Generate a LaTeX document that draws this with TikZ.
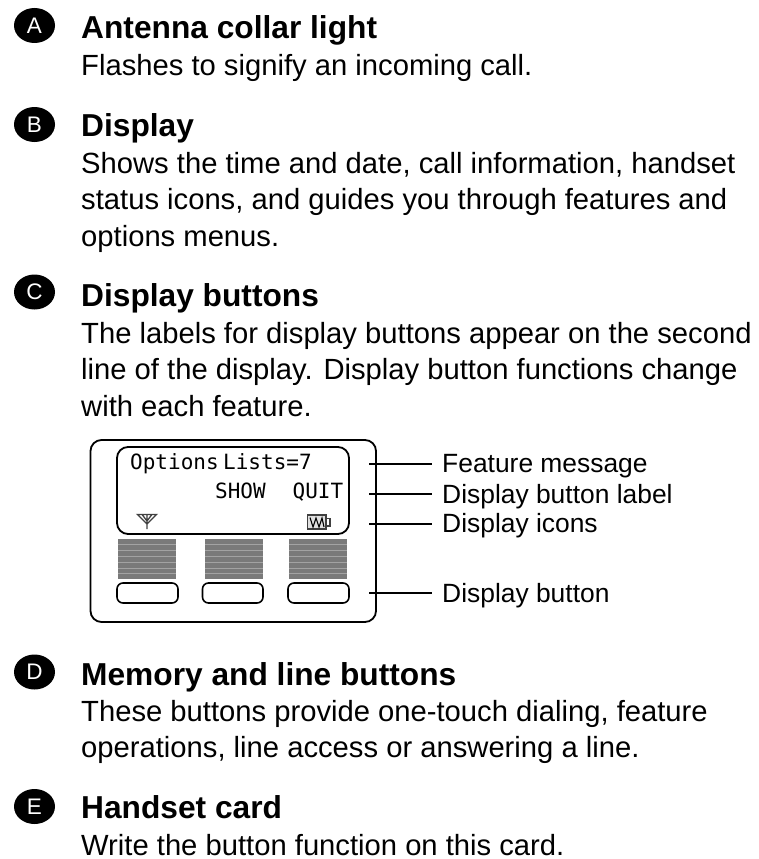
\documentclass[tikz,border=0pt]{standalone}
\usepackage{fontspec}
\setmainfont{Liberation Sans}
\newfontfamily\lcdfont{DejaVu Sans Mono}
\usetikzlibrary{shapes.geometric}
\tikzset{
  x=1pt,y=-1pt,
  badge/.style={ellipse,fill=black,text=white,inner sep=0pt,minimum width=41pt,minimum height=35pt,font=\fontsize{22.5}{22.5}\selectfont},
  head/.style={anchor=base west,inner sep=0pt,font=\fontsize{31.7}{31.7}\selectfont\bfseries},
  body/.style={anchor=base west,inner sep=0pt,font=\fontsize{29.2}{29.2}\selectfont},
  callout/.style={anchor=base west,inner sep=0pt,font=\fontsize{26.4}{26.4}\selectfont},
  lcd/.style={anchor=base west,inner sep=0pt,font=\fontsize{21}{21}\lcdfont\selectfont},
  frame/.style={draw=black,line width=1.8pt,rounded corners=11pt},
  softkey/.style={draw=black,line width=1.6pt,rounded corners=6pt},
  leader/.style={draw=black,line width=1.2pt},
  bar/.style={fill=black!52},
  stripe/.style={draw=black!36,line width=0.5pt}
}
\begin{document}
\begin{tikzpicture}
\useasboundingbox (0,0) rectangle (758,859);
\node[badge] (ba) at (34.5,25.5) {A};
\node[badge] (bb) at (34.5,124.5) {B};
\node[badge] (bc) at (34.5,292) {C};
\node[badge] (bd) at (34.5,672) {D};
\node[badge] (be) at (34.5,806.5) {E};
\node[head] (t1) at (81,38) {Antenna collar light};
\node[body] (t2) at (81,75) {Flashes to signify an incoming call.};
\node[head] (t3) at (81,136) {Display};
\node[body] (t4) at (81,173) {Shows the time and date, call information, handset};
\node[body] (t5) at (81,209) {status icons, and guides you through features and};
\node[body] (t6) at (81,246) {options menus.};
\node[head] (t7) at (81,306) {Display buttons};
\node[body] (t8) at (81,343) {The labels for display buttons appear on the second};
\node[body] (t9) at (81,379) {line of the display. Display button functions change};
\node[body] (t10) at (81,416) {with each feature.};
\node[head] (t11) at (81,685) {Memory and line buttons};
\node[body] (t12) at (81,721) {These buttons provide one-touch dialing, feature};
\node[body] (t13) at (81,757.5) {operations, line access or answering a line.};
\node[head] (t14) at (81,818) {Handset card};
\node[body] (t15) at (81,855) {Write the button function on this card.};
% handset outline
\draw[frame] (90.5,440) rectangle (376,622);
\draw[frame] (117,447) rectangle (349,534);
% lcd text
\node[lcd] (l1) at (130,469) {Options};
\node[lcd] (l2) at (223,469) {Lists=7};
\node[lcd] (l3) at (215,498.5) {SHOW};
\node[lcd] (l4) at (292.5,498.5) {QUIT};
% antenna icon
\draw[black!75,line width=1.3pt] (137.5,514.5) -- (147,524) -- (156.5,514.5) -- cycle (147,515) -- (147,529) (142.5,515) -- (147,521) -- (151.5,515);
% battery icon
\draw[black!75,line width=1.3pt,fill=black!12] (307.5,515) rectangle (326,529);
\draw[black!75,line width=1.1pt] (326,518.5) rectangle (330,526);
\draw[black,line width=1.1pt] (310,517.5) -- (313,527) -- (316,518) -- (319,527) -- (322,518) -- (324,527);
% gray bars
\foreach \xa in {118,205,289}{
  \fill[bar] (\xa,539) rectangle (\xa+58,579);
  \foreach \ya in {544.5,550.5,556.5,562,568,573.5}{
    \draw[stripe] (\xa,\ya) -- (\xa+58,\ya);
  }
}
\draw[softkey] (117,583) rectangle (178,603);
\draw[softkey] (202.5,583) rectangle (263,603);
\draw[softkey] (288,583) rectangle (349,603);
% callouts
\node[callout] (c1) at (442,472) {Feature message};
\node[callout] (c2) at (442,503) {Display button label};
\node[callout] (c3) at (442,532) {Display icons};
\node[callout] (c4) at (442,602) {Display button};
\coordinate (p1) at (369,464);
\coordinate (p2) at (369,494);
\coordinate (p3) at (369,524);
\coordinate (p4) at (369,593);
\coordinate (q1) at (432,464);
\coordinate (q2) at (432,494);
\coordinate (q3) at (432,524);
\coordinate (q4) at (432,593);
\draw[leader] (p1) -- (q1);
\draw[leader] (p2) -- (q2);
\draw[leader] (p3) -- (q3);
\draw[leader] (p4) -- (q4);
\end{tikzpicture}
\end{document}
